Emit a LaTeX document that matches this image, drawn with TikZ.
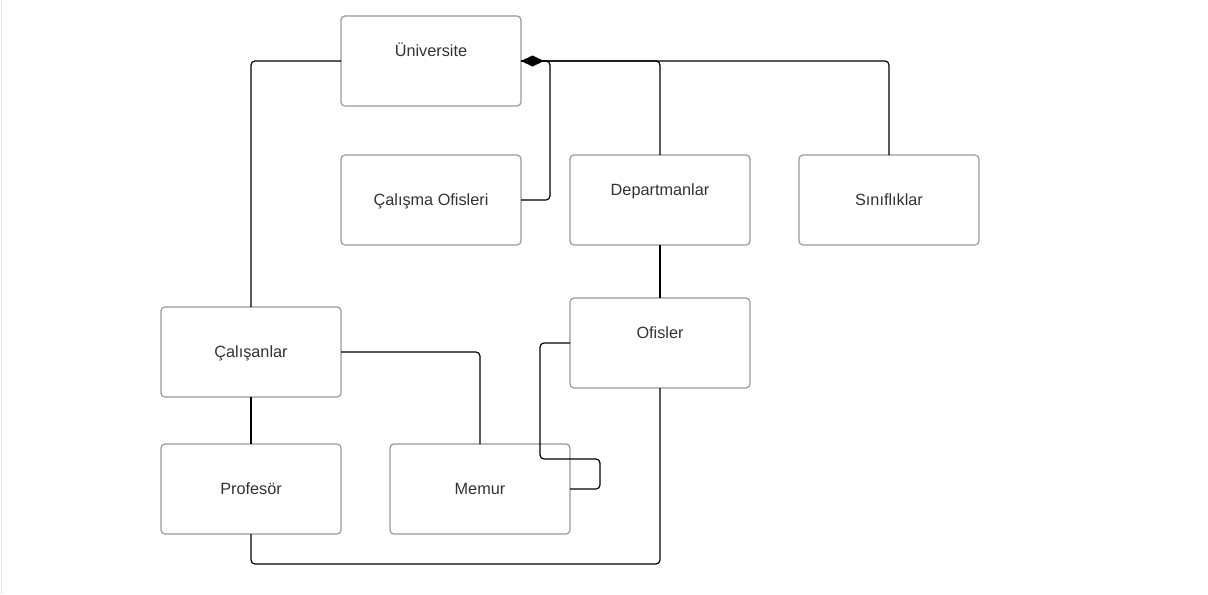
\documentclass[tikz,border=0pt]{standalone}
\usepackage{fontspec}
\setmainfont{Liberation Sans}
\usetikzlibrary{arrows.meta, positioning}

\definecolor{boxgray}{HTML}{999999}
\definecolor{textgray}{HTML}{333333}

\begin{document}
\begin{tikzpicture}[
  x=0.75pt, y=-0.75pt,
  entity/.style = {draw=boxgray, line width=0.9pt, rounded corners=3pt,
                   minimum width=135pt, minimum height=67.5pt,
                   inner sep=0pt, outer sep=0pt,
                   text=textgray, font=\fontsize{12.2}{14}\selectfont,
                   text height=11pt, text depth=2.3pt},
  upper/.style  = {text depth=17.3pt}, % label sits higher in the box
  link/.style   = {line width=0.9pt, rounded corners=3pt},
  node distance=36.75pt and 36.75pt
]

  % Canvas
  \fill[white] (0,0) rectangle (1208,594);
  \useasboundingbox (0,0) rectangle (1208,594);
  \draw[black!12] (1,0) -- (1,594);

  % Top row
  \node[entity, upper] (univ) at (431,61) {Üniversite};
  \node[entity, below=of univ] (calisma) {Çalışma Ofisleri};
  \node[entity, upper, right=of calisma] (depart) {Departmanlar};
  \node[entity, right=of depart] (sinif) {Sınıflıklar};

  % Lower part
  \node[entity, upper, below=39.75pt of depart] (ofis) {Ofisler};
  \node[entity] (calisan) at (251,352) {Çalışanlar};
  \node[entity, below=35.25pt of calisan] (profesor) {Profesör};
  \node[entity, right=of profesor] (memur) {Memur};

  % Connections
  \draw[link, {Diamond[length=17.25pt, width=8.25pt]}-] (univ.east) -| (sinif.north);
  \draw[link] (univ.east) -| (depart.north);
  \draw[link] (univ.east) -- ++(29,0) |- (calisma.east);
  \draw[link] (univ.west) -| (calisan.north);
  \draw[link] (depart) -- (ofis);
  \draw[link] (calisan) -- (profesor);
  \draw[link] (calisan.east) -| (memur.north);
  \draw[link] (ofis.south) -- ++(0,176) -| (profesor.south);
  \draw[link] (ofis.west) -- ++(-30,0) |- ++(60,116) |- (memur.east);

\end{tikzpicture}
\end{document}
